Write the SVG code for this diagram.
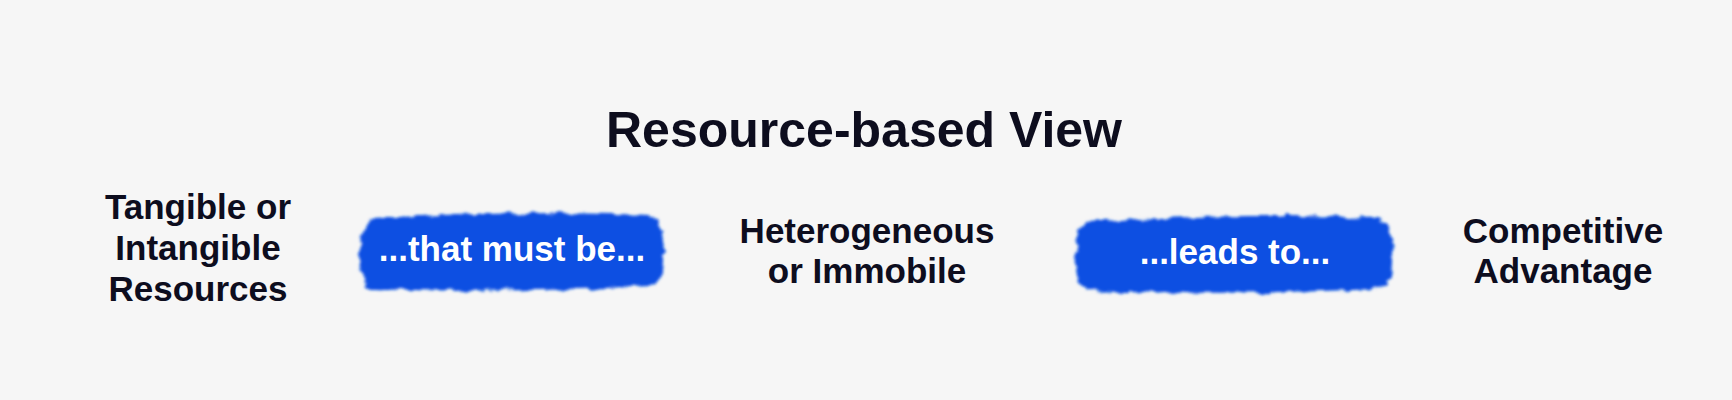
<svg xmlns="http://www.w3.org/2000/svg" width="1732" height="400" viewBox="0 0 1732 400">
  <style>
    .node { font-family: "Liberation Sans", Arial, sans-serif; font-weight: bold; font-size: 35px; fill: #0d0d1e; text-anchor: middle; }
    .title { font-family: "Liberation Sans", Arial, sans-serif; font-weight: bold; font-size: 50px; fill: #0d0d1e; text-anchor: middle; }
    .pilltext { font-family: "Liberation Sans", Arial, sans-serif; font-weight: bold; font-size: 35px; fill: #ffffff; text-anchor: middle; }
    .brush { fill: #0a4fe2; filter: url(#rough); }
  </style>
  <defs>
    <filter id="rough" x="-10%" y="-30%" width="120%" height="160%">
      <feTurbulence type="fractalNoise" baseFrequency="0.07 0.12" numOctaves="3" seed="4" result="noise"/>
      <feDisplacementMap in="SourceGraphic" in2="noise" scale="8" xChannelSelector="R" yChannelSelector="G" result="disp"/>
      <feGaussianBlur in="disp" stdDeviation="1.4"/>
    </filter>
  </defs>
  <rect x="0" y="0" width="1732" height="400" fill="#f6f6f6"/>

  <g id="title">
    <text class="title" x="864" y="147">Resource-based View</text>
  </g>

  <g id="node-resources">
    <text class="node" x="198" y="219">Tangible or</text>
    <text class="node" x="198" y="260">Intangible</text>
    <text class="node" x="198" y="301">Resources</text>
  </g>

  <g id="node-heterogeneous">
    <text class="node" x="867" y="243">Heterogeneous</text>
    <text class="node" x="867" y="283">or Immobile</text>
  </g>

  <g id="node-advantage">
    <text class="node" x="1563" y="243">Competitive</text>
    <text class="node" x="1563" y="283">Advantage</text>
  </g>

  <g id="connectors">
    <g id="link-must-be">
      <path class="brush" d="M374,219 C440,213 560,212 648,215 C662,219 665,240 663,256 C663,272 661,283 650,286 C560,291 450,292 374,289 C361,286 359,268 360,252 C360,236 362,223 374,219 Z"/>
      <text class="pilltext" x="512" y="261">...that must be...</text>
    </g>
    <g id="link-leads-to">
      <path class="brush" d="M1090,222 C1160,216 1290,214 1378,218 C1392,222 1394,242 1392,258 C1392,275 1390,286 1378,289 C1290,293 1170,294 1090,291 C1077,288 1075,270 1076,254 C1076,238 1078,226 1090,222 Z"/>
      <text class="pilltext" x="1235" y="264">...leads to...</text>
    </g>
  </g>
</svg>
